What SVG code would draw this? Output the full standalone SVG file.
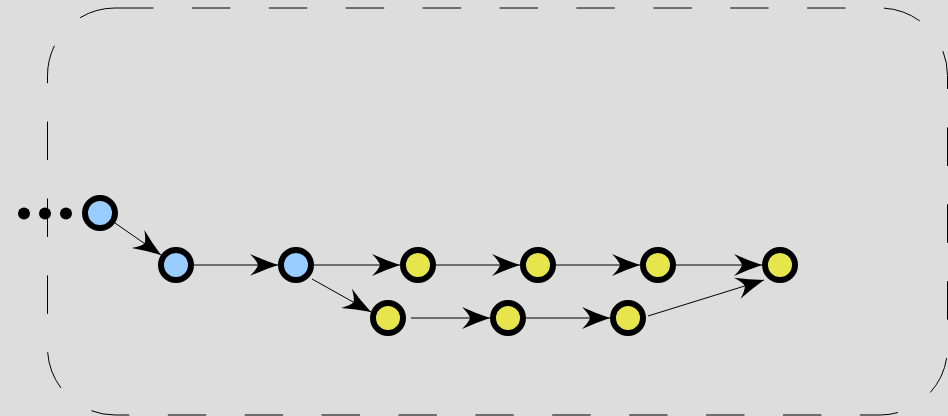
<svg xmlns="http://www.w3.org/2000/svg" width="948" height="416" viewBox="0 0 948 416">
<style>
.bg{fill:#dddddd}
.frame{fill:none;stroke:#000;stroke-width:1;stroke-dasharray:38.45 38.45}
.blue{fill:#99ccff;stroke:#000;stroke-width:6}
.yellow{fill:#e6e64c;stroke:#000;stroke-width:6}
.dot{fill:#000}
.edge{fill:none;stroke:#000;stroke-width:1;marker-end:url(#arr)}
</style>
<defs>
<marker id="arr" viewBox="-30 -12 32 24" refX="0" refY="0" markerWidth="32" markerHeight="24" markerUnits="userSpaceOnUse" orient="auto">
<path d="M0,0 Q-15,-5 -28,-11 Q-21,-4 -20,0 Q-21,4 -28,11 Q-15,5 0,0 Z" fill="#000"/>
</marker>
</defs>
<rect class="bg" x="0" y="0" width="948" height="416"/>
<rect id="cluster" class="frame" x="47.5" y="8" width="900" height="407" rx="67.5" ry="67.5"/>
<g id="connectors">
<line class="edge" x1="115" y1="223" x2="161" y2="255"/>
<line class="edge" x1="194" y1="265" x2="278" y2="265"/>
<line class="edge" x1="314" y1="265" x2="400" y2="265"/>
<line class="edge" x1="436" y1="265" x2="520" y2="265"/>
<line class="edge" x1="556" y1="265" x2="640" y2="265"/>
<line class="edge" x1="676" y1="265" x2="762" y2="265"/>
<line class="edge" x1="312" y1="279" x2="371" y2="312"/>
<line class="edge" x1="411" y1="318" x2="490" y2="318"/>
<line class="edge" x1="526" y1="318" x2="610" y2="318"/>
<line class="edge" x1="648" y1="316" x2="764" y2="280"/>
</g>
<g id="ellipsis">
<circle class="dot" cx="24" cy="213.5" r="6"/>
<circle class="dot" cx="45" cy="213.5" r="6"/>
<circle class="dot" cx="66" cy="213.5" r="6"/>
</g>
<g id="n1"><circle class="blue" cx="100" cy="213" r="15"/></g>
<g id="n2"><circle class="blue" cx="176" cy="265" r="15"/></g>
<g id="n3"><circle class="blue" cx="296" cy="265" r="15"/></g>
<g id="n4"><circle class="yellow" cx="418" cy="265" r="15"/></g>
<g id="n5"><circle class="yellow" cx="538" cy="265" r="15"/></g>
<g id="n6"><circle class="yellow" cx="658" cy="265" r="15"/></g>
<g id="n7"><circle class="yellow" cx="780" cy="265" r="15"/></g>
<g id="n8"><circle class="yellow" cx="388" cy="318" r="15"/></g>
<g id="n9"><circle class="yellow" cx="508" cy="318" r="15"/></g>
<g id="n10"><circle class="yellow" cx="628" cy="318" r="15"/></g>
</svg>
